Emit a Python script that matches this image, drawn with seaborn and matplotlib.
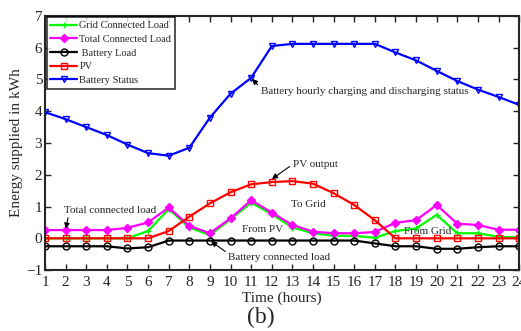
import matplotlib
matplotlib.use("Agg")
import matplotlib.pyplot as plt
import seaborn as sns
import pandas as pd

hours = list(range(1, 25))
grid_load = [0, 0, 0, 0, 0, 0.23, 0.92, 0.34, 0.1, 0.6, 1.12, 0.76, 0.34, 0.16, 0.08, 0.08, 0.02, 0.23, 0.31, 0.74, 0.16, 0.16, 0.05, 0.03]
total_load = [0.26, 0.26, 0.26, 0.26, 0.33, 0.5, 0.97, 0.39, 0.16, 0.63, 1.2, 0.81, 0.42, 0.21, 0.16, 0.16, 0.2, 0.49, 0.57, 1.05, 0.46, 0.42, 0.27, 0.27]
battery_load = [-0.25, -0.25, -0.25, -0.25, -0.32, -0.28, -0.07, -0.07, -0.07, -0.07, -0.07, -0.07, -0.07, -0.07, -0.07, -0.07, -0.16, -0.25, -0.25, -0.33, -0.33, -0.28, -0.25, -0.25]
pv = [0, 0, 0, 0, 0, 0, 0.23, 0.68, 1.1, 1.45, 1.7, 1.77, 1.8, 1.72, 1.42, 1.05, 0.57, 0, 0, 0, 0, 0, 0, 0]
battery_status = [3.97, 3.75, 3.5, 3.25, 2.95, 2.68, 2.6, 2.85, 3.8, 4.55, 5.05, 6.05, 6.12, 6.12, 6.12, 6.12, 6.12, 5.85, 5.6, 5.27, 4.95, 4.68, 4.45, 4.2]

series_names = ["Grid Connected Load", "Total Connected Load", " Battery Load", "PV", "Battery Status"]
series_values = [grid_load, total_load, battery_load, pv, battery_status]
colors = ["#00ff00", "#ff00ff", "black", "red", "blue"]
markers = ["+", "D", "o", "s", "v"]

sns.set_style("ticks")
plt.rcParams["font.family"] = ["Liberation Serif", "DejaVu Serif"]

fig = plt.figure(figsize=(5.21, 3.31), dpi=100)
ax = fig.add_axes([0.0864, 0.184, 0.910, 0.768])

for name, vals, c, m in zip(series_names, series_values, colors, markers):
    df = pd.DataFrame({"hour": hours, "value": vals})
    kw = dict(marker=m, markersize=5, markeredgewidth=1.0)
    if m == "D":
        kw.update(markersize=4, markerfacecolor=c, markeredgecolor=c)
    elif m == "+":
        kw.update(markersize=4, markeredgecolor=c)
    else:
        kw.update(markerfacecolor="none", markeredgecolor=c)
    sns.lineplot(data=df, x="hour", y="value", ax=ax, color=c, linewidth=1.6,
                 label=name, **kw)

ax.set_xlim(1, 24)
ax.set_ylim(-1, 7)
ax.set_xticks(hours)
ax.set_yticks(range(-1, 8))
ax.tick_params(direction="in", top=True, right=True, labelsize=11, length=4, width=1)
ax.tick_params(axis="x", pad=4)
ax.tick_params(axis="y", pad=2)
for s in ax.spines.values():
    s.set_linewidth(1.5)
ax.set_xlabel("Time (hours)", fontsize=11, labelpad=2)
ax.set_ylabel("Energy supplied in kWh", fontsize=11, labelpad=2)

leg = ax.legend(loc="upper left", fontsize=7.5, frameon=True, fancybox=False,
                edgecolor="black", borderpad=0.35, labelspacing=0.42,
                handlelength=2.6, handletextpad=0.2, borderaxespad=0.15)
leg.get_frame().set_linewidth(1.2)

afs = 8.0
def arrow(rp):
    return dict(arrowstyle="-|>", color="black", lw=0.8, mutation_scale=8,
                relpos=rp, shrinkA=0, shrinkB=1)

ax.annotate("Battery hourly charging and discharging status", xy=(11, 5.05), xytext=(11.47, 4.63),
            fontsize=afs, arrowprops=arrow((0, 0.85)), va="center")
ax.annotate("PV output", xy=(11.95, 1.84), xytext=(13.02, 2.33), fontsize=afs,
            arrowprops=arrow((0, 0.5)), va="center")
ax.text(12.95, 1.05, "To Grid", fontsize=afs, va="center")
ax.text(10.55, 0.28, "From PV", fontsize=afs, va="center")
ax.text(18.4, 0.2, "From Grid", fontsize=afs, va="center")
ax.annotate("Total connected load", xy=(2, 0.26), xytext=(1.92, 0.89), fontsize=afs,
            arrowprops=arrow((0.05, 0)), va="center")
ax.annotate("Battery connected load", xy=(9, -0.07), xytext=(9.9, -0.6), fontsize=afs,
            arrowprops=arrow((0, 0.9)), va="center")

fig.text(0.5, 0.042, "(b)", fontsize=17, ha="center", va="center")

fig.savefig("out.png", dpi=100)
